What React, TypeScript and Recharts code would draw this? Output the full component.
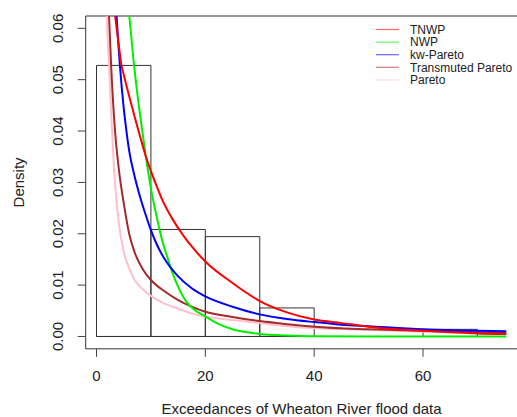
import React from 'react';
import { ComposedChart, Line, XAxis, YAxis, ReferenceArea, ReferenceLine, Legend, Label } from 'recharts';

// histogram of the 72 exceedances, bins of width 10
const binStarts = [0, 10, 20, 30, 40, 50, 60];
const binCounts = [38, 15, 14, 4, 0, 0, 1];
const sampleSize = 72;
const binWidth = 10;

// fitted densities
const tnwpX = [3, 4, 4.6, 5, 6, 7, 8, 9, 10, 11, 12, 14, 16, 18, 20, 25, 30, 35, 40, 45, 50, 55, 60, 65, 70, 75.3];
const tnwpY = [0.066, 0.0575, 0.0528, 0.051, 0.0468, 0.0428, 0.039, 0.0353, 0.0322, 0.0294, 0.0268, 0.0228, 0.0196, 0.0169, 0.0146, 0.0104, 0.0069, 0.0047, 0.0033, 0.0026, 0.0019, 0.0014, 0.0011, 0.0008, 0.0006, 0.0005];

const nwpX = [5, 5.5, 6, 7, 8, 9, 10, 11, 12, 13, 14, 15, 16.5, 18, 20, 22.5, 25, 30, 35, 40, 50, 60, 75.3];
const nwpY = [0.075, 0.068, 0.0627, 0.0518, 0.0432, 0.0355, 0.0288, 0.0236, 0.019, 0.0155, 0.0123, 0.0097, 0.0068, 0.0052, 0.0039, 0.0024, 0.0014, 0.0005, 0.0002, 0.00005, 0, 0, 0];

const kwX = [3, 3.5, 4, 4.3, 5, 5.5, 6, 7, 8, 9, 10, 11, 12, 13, 14, 15, 17.5, 20, 25, 30, 35, 40, 45, 50, 60, 70, 75.3];
const kwY = [0.075, 0.0656, 0.0572, 0.0528, 0.0445, 0.04, 0.0362, 0.0312, 0.0272, 0.0238, 0.0207, 0.0181, 0.016, 0.0143, 0.0129, 0.0117, 0.0094, 0.0078, 0.0058, 0.0043, 0.0034, 0.0028, 0.0023, 0.002, 0.0014, 0.0011, 0.001];

const tpX = [1.8, 2.3, 2.7, 3.4, 4.1, 5, 6, 7, 8.5, 10, 12.5, 15, 17.5, 20, 25, 30, 35, 40, 50, 60, 70, 75.3];
const tpY = [0.08, 0.0624, 0.0525, 0.0401, 0.0326, 0.026, 0.02, 0.0164, 0.0131, 0.011, 0.0088, 0.0071, 0.0058, 0.0048, 0.0038, 0.003, 0.0024, 0.0019, 0.0014, 0.0011, 0.0008, 0.0007];

const paretoX = [1.5, 1.87, 2.3, 2.8, 3.2, 4, 5, 6, 7, 8.5, 10, 12.5, 15, 17.5, 20, 25, 30, 35, 40, 50, 60, 70, 75.3];
const paretoY = [0.078, 0.0624, 0.0528, 0.0415, 0.033, 0.023, 0.0165, 0.0133, 0.011, 0.0092, 0.0079, 0.0064, 0.0054, 0.0045, 0.0039, 0.0032, 0.0026, 0.002, 0.0016, 0.0013, 0.0009, 0.0007, 0.0006];

const xTicks = [0, 20, 40, 60];
const yTicks = [0, 0.01, 0.02, 0.03, 0.04, 0.05, 0.06];

const toPoints = (xs: number[], ys: number[]) => xs.map((x, i) => ({ x, y: ys[i] }));

const legendItems = [
  { name: 'TNWP', color: '#ff0000' },
  { name: 'NWP', color: '#00ee00' },
  { name: 'kw-Pareto', color: '#0000ff' },
  { name: 'Transmuted Pareto', color: '#a52a2a' },
  { name: 'Pareto', color: '#ffc0cb' },
];

// drawing order (pink first, red last)
const curves = [
  { name: 'Pareto', color: '#ffc0cb', data: toPoints(paretoX, paretoY) },
  { name: 'Transmuted Pareto', color: '#a52a2a', data: toPoints(tpX, tpY) },
  { name: 'NWP', color: '#00ee00', data: toPoints(nwpX, nwpY) },
  { name: 'kw-Pareto', color: '#0000ff', data: toPoints(kwX, kwY) },
  { name: 'TNWP', color: '#ff0000', data: toPoints(tnwpX, tnwpY) },
];

const FONT = 'Liberation Sans, Arial, sans-serif';
const X_DOMAIN = [-1.985, 77.27];
const Y_DOMAIN = [-0.0024, 0.0624];

const XTick = (props: any) => {
  const { x, payload } = props;
  return (
    <text x={x} y={381} textAnchor="middle" fontSize={15} fill="#222" fontFamily={FONT}>
      {payload.value}
    </text>
  );
};

const YTick = (props: any) => {
  const { x, y, payload } = props;
  const tx = x - 13;
  return (
    <text x={tx} y={y} transform={`rotate(-90, ${tx}, ${y})`} textAnchor="middle" fontSize={15} fill="#222" fontFamily={FONT}>
      {payload.value.toFixed(2)}
    </text>
  );
};

const LegendBox = () => (
  <svg width={157} height={70} style={{ display: 'block' }}>
    {legendItems.map((item, i) => {
      const cy = 9.5 + i * 12.6;
      return (
        <g key={item.name}>
          <line x1={16} x2={39} y1={cy} y2={cy} stroke={item.color} strokeWidth={1.2} strokeOpacity={0.6} />
          <text x={50} y={cy + 4.3} fontSize={12} fill="#222" fontFamily={FONT}>
            {item.name}
          </text>
        </g>
      );
    })}
  </svg>
);

const App = () => {
  return (
    <div style={{ position: 'absolute', left: 0, top: 0, background: '#fff' }}>
      <ComposedChart width={517} height={417} margin={{ top: 16, right: 0, bottom: 0, left: 0 }}>
        <XAxis
          type="number"
          dataKey="x"
          domain={X_DOMAIN}
          allowDataOverflow
          ticks={xTicks}
          height={68.2}
          axisLine={{ stroke: '#333' }}
          tickLine={{ stroke: '#444' }}
          tickSize={8}
          tick={<XTick />}
        >
          <Label
            content={() => (
              <text x={301.5} y={414} textAnchor="middle" fontSize={15} fill="#222" fontFamily={FONT}>
                Exceedances of Wheaton River flood data
              </text>
            )}
          />
        </XAxis>
        <YAxis
          type="number"
          dataKey="y"
          domain={Y_DOMAIN}
          allowDataOverflow
          ticks={yTicks}
          width={85.7}
          axisLine={{ stroke: '#333' }}
          tickLine={{ stroke: '#444' }}
          tickSize={8}
          tick={<YTick />}
        >
          <Label
            content={() => (
              <text x={24} y={182.4} transform="rotate(-90, 24, 182.4)" textAnchor="middle" fontSize={15} fill="#222" fontFamily={FONT}>
                Density
              </text>
            )}
          />
        </YAxis>
        <ReferenceLine y={Y_DOMAIN[1]} stroke="#333" />
        {binStarts.map((start, i) => (
          <ReferenceArea
            key={start}
            x1={start}
            x2={start + binWidth}
            y1={0}
            y2={binCounts[i] / (sampleSize * binWidth)}
            fill="none"
            stroke="#333"
            strokeWidth={1}
          />
        ))}
        <ReferenceLine segment={[{ x: 0, y: 0 }, { x: 70, y: 0 }]} stroke="#333" />
        {curves.map((c) => (
          <Line
            key={c.name}
            data={c.data}
            dataKey="y"
            name={c.name}
            type="monotone"
            stroke={c.color}
            strokeWidth={2}
            dot={false}
            activeDot={false}
            isAnimationActive={false}
          />
        ))}
        <Legend
          layout="horizontal"
          verticalAlign="middle"
          align="center"
          wrapperStyle={{ left: 360, top: 20, width: 157, height: 70 }}
          content={() => <LegendBox />}
        />
      </ComposedChart>
    </div>
  );
};

export default App;
